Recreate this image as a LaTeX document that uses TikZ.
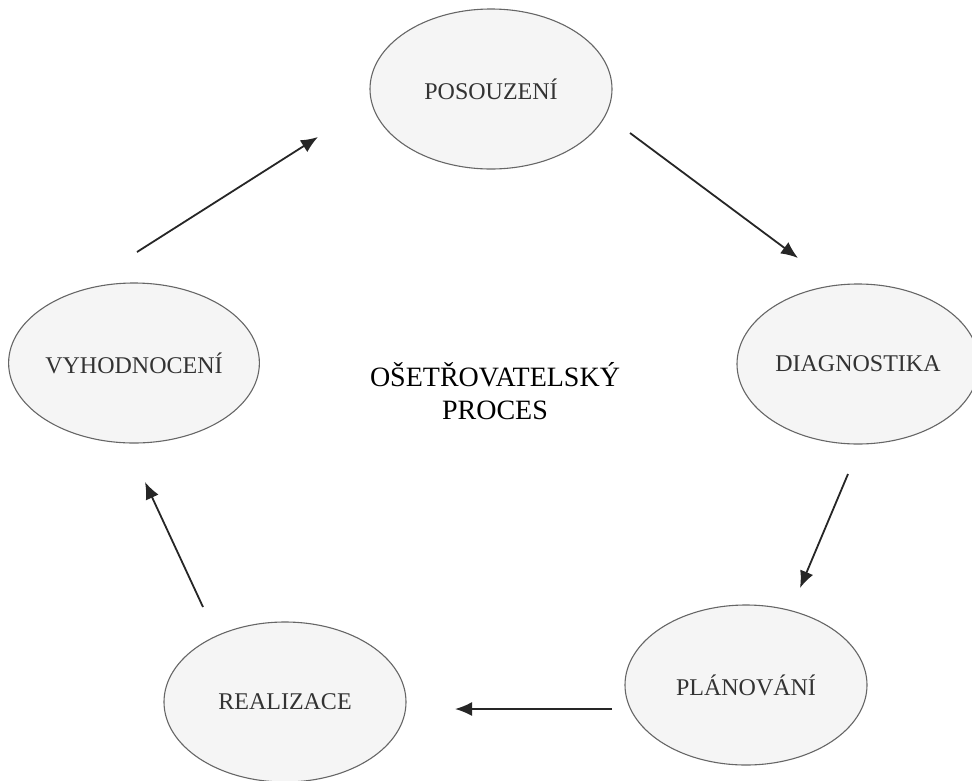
\documentclass[tikz,border=0pt]{standalone}
\usepackage{fontspec}
\setmainfont{Liberation Serif}
\usetikzlibrary{shapes.geometric,arrows.meta}

\begin{document}
\begin{tikzpicture}[x=1pt, y=-1pt,
    % Styles
    phase/.style={ellipse, draw=black!60, fill=black!4, line width=1.1pt, minimum width=242pt, minimum height=160pt, inner sep=0pt, text=black!80, font=\fontsize{24}{28}\selectfont},
    title/.style={align=center, font=\fontsize{28}{33}\selectfont},
    cycle-arrow/.style={-{Latex[length=17pt, width=14pt]}, line width=1.8pt, black!85},
]

% Frame
\useasboundingbox (0,0) rectangle (972,780);

% Phases of the process
\node[phase] (posouzeni) at (491, 89) {POSOUZENÍ};
\node[phase] (diagnostika) at (858, 364) {DIAGNOSTIKA};
\node[phase] (planovani) at (746, 685) {PLÁNOVÁNÍ};
\node[phase] (realizace) at (285, 702) {REALIZACE};
\node[phase] (vyhodnoceni) at (134, 363) {VYHODNOCENÍ};

% Central label
\node[title] (proces) at (495, 391) {OŠETŘOVATELSKÝ\\PROCES};

% Arrow ends
\coordinate (a1) at (137, 252);
\coordinate (b1) at (318, 137);
\coordinate (a2) at (630, 133);
\coordinate (b2) at (798, 258);
\coordinate (a3) at (848, 474);
\coordinate (b3) at (800, 588);
\coordinate (a4) at (612, 709);
\coordinate (b4) at (455, 709);
\coordinate (a5) at (203, 607);
\coordinate (b5) at (145, 482);

% Cycle arrows (clockwise)
\draw[cycle-arrow] (a1) -- (b1);
\draw[cycle-arrow] (a2) -- (b2);
\draw[cycle-arrow] (a3) -- (b3);
\draw[cycle-arrow] (a4) -- (b4);
\draw[cycle-arrow] (a5) -- (b5);

\end{tikzpicture}
\end{document}
